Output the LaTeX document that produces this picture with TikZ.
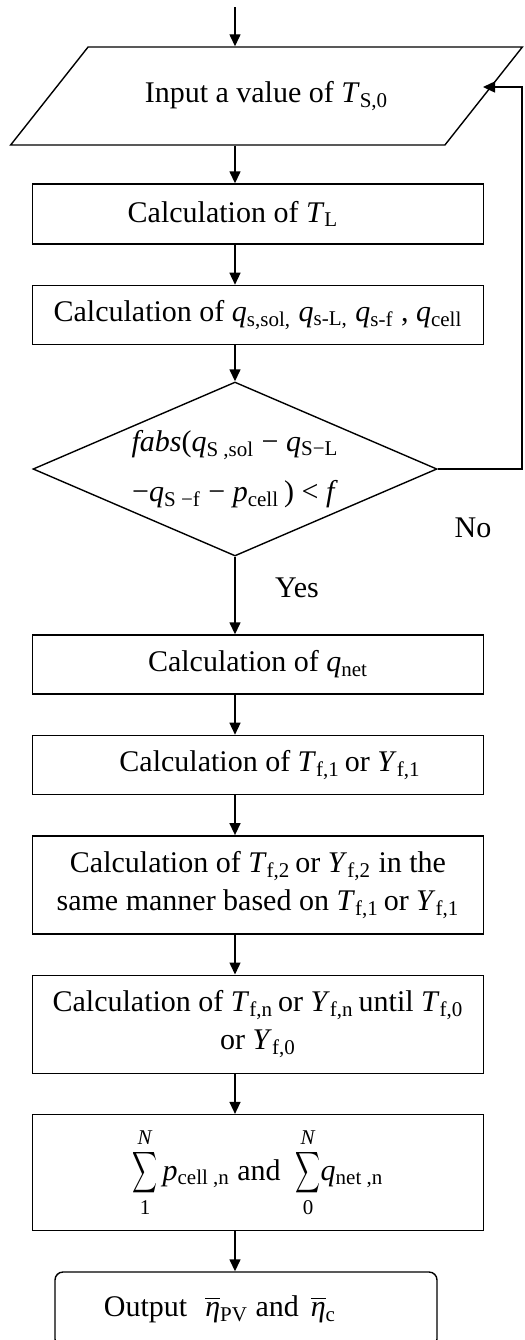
\documentclass[tikz,border=0pt]{standalone}
\usepackage{amsmath}
\usepackage{graphicx}
\usepackage{fontspec}
\setmainfont{Liberation Serif}
\usepackage{tikz}
\usetikzlibrary{positioning,arrows.meta,shapes.geometric}
\newcommand{\vr}[2]{\textit{#1}\textsubscript{#2}}
\newcommand{\etabar}{$\overline{\text{\textit{η}}}$}
\newcommand{\bigsum}[2]{$\displaystyle\mathop{\scalebox{0.6}[1]{$\displaystyle\sum$}}\limits_{\text{#1}}^{\text{\textit{#2}}}$}

\begin{document}
\begin{tikzpicture}[
    x=0.5pt, y=-0.5pt,
    node distance=20pt,
    every node/.style={font=\fontsize{15}{19}\selectfont},
    box/.style={draw, line width=0.7pt, align=center, minimum width=225.5pt, inner sep=2pt},
    iobox/.style={draw, line width=0.7pt, trapezium, trapezium left angle=37, trapezium right angle=143, trapezium stretches=true, minimum width=256.5pt, minimum height=49pt},
    testbox/.style={draw, line width=0.7pt, diamond, aspect=2.32, minimum width=202pt, minimum height=87pt, inner sep=0pt, align=center},
    endbox/.style={box, rounded corners=4pt, minimum width=191pt, minimum height=37.5pt},
    arr/.style={-{Triangle[length=6pt,width=5.5pt]}, line width=0.7pt}
]
\useasboundingbox (0,0) rectangle (525,1340);
\coordinate (start) at (235,7);
\node[iobox] (inp) at (266.5,96) {Input a value of \vr{T}{S,0}};
\node[box, minimum height=30pt] (b1) at (258,214) {Calculation of \vr{T}{L}\hspace*{25pt}};
\node[box, minimum height=29.5pt, below=of b1] (b2) {Calculation of \vr{q}{s,sol,} \vr{q}{s-L,} \vr{q}{s-f} , \vr{q}{cell}};
\node[testbox] (dec) at (235,469) {\textit{fabs}(\vr{q}{S ,sol} − \vr{q}{S−L}\\[6pt]−\vr{q}{S −f} − \vr{p}{cell}\,) < \textit{f}};
\node[box, minimum height=29.5pt] (b3) at (258,664.5) {Calculation of \vr{q}{net}};
\node[box, minimum height=29.5pt, below=of b3] (b4) {\hspace*{12pt}Calculation of \vr{T}{f,1}\,or \vr{Y}{f,1}};
\node[box, minimum height=49pt, below=of b4] (b5) {Calculation of \vr{T}{f,2}\,or \vr{Y}{f,2} in the\\same manner based on \vr{T}{f,1}\,or \vr{Y}{f,1}};
\node[box, minimum height=49pt, below=of b5] (b6) {Calculation of \vr{T}{f,n}\,or \vr{Y}{f,n}\,until \vr{T}{f,0}\\or \vr{Y}{f,0}};
\node[box, minimum height=58pt, below=of b6] (b7) {\bigsum{1}{N}\,\vr{p}{cell ,n} and\ \ \bigsum{0}{N}\vr{q}{net ,n}};
\node[endbox, below=of b7, xshift=-6pt] (out) {Output\hspace{9pt}\etabar\textsubscript{PV} and\hspace{6pt}\etabar\textsubscript{c}\hspace*{26pt}};
\node (no) at (473,528) {No};
\node (yes) at (297,588) {Yes};
\coordinate (ret) at (483,87);
\coordinate (rx) at (522,87);
\draw[arr] (start) -- (start |- inp.north);
\draw[arr] (start |- inp.south) -- (b1.north -| start);
\draw[arr] (b1.south -| start) -- (b2.north -| start);
\draw[arr] (b2.south -| start) -- (dec.north);
\draw[arr] (dec.south) -- (b3.north -| dec.south);
\draw[arr] (b3.south -| dec.south) -- (b4.north -| dec.south);
\draw[arr] (b4.south -| dec.south) -- (b5.north -| dec.south);
\draw[arr] (b5.south -| dec.south) -- (b6.north -| dec.south);
\draw[arr] (b6.south -| dec.south) -- (b7.north -| dec.south);
\draw[arr] (b7.south -| dec.south) -- (out.north -| dec.south);
\draw[arr] (dec.east) -| (rx) -- (ret);
\end{tikzpicture}
\end{document}
